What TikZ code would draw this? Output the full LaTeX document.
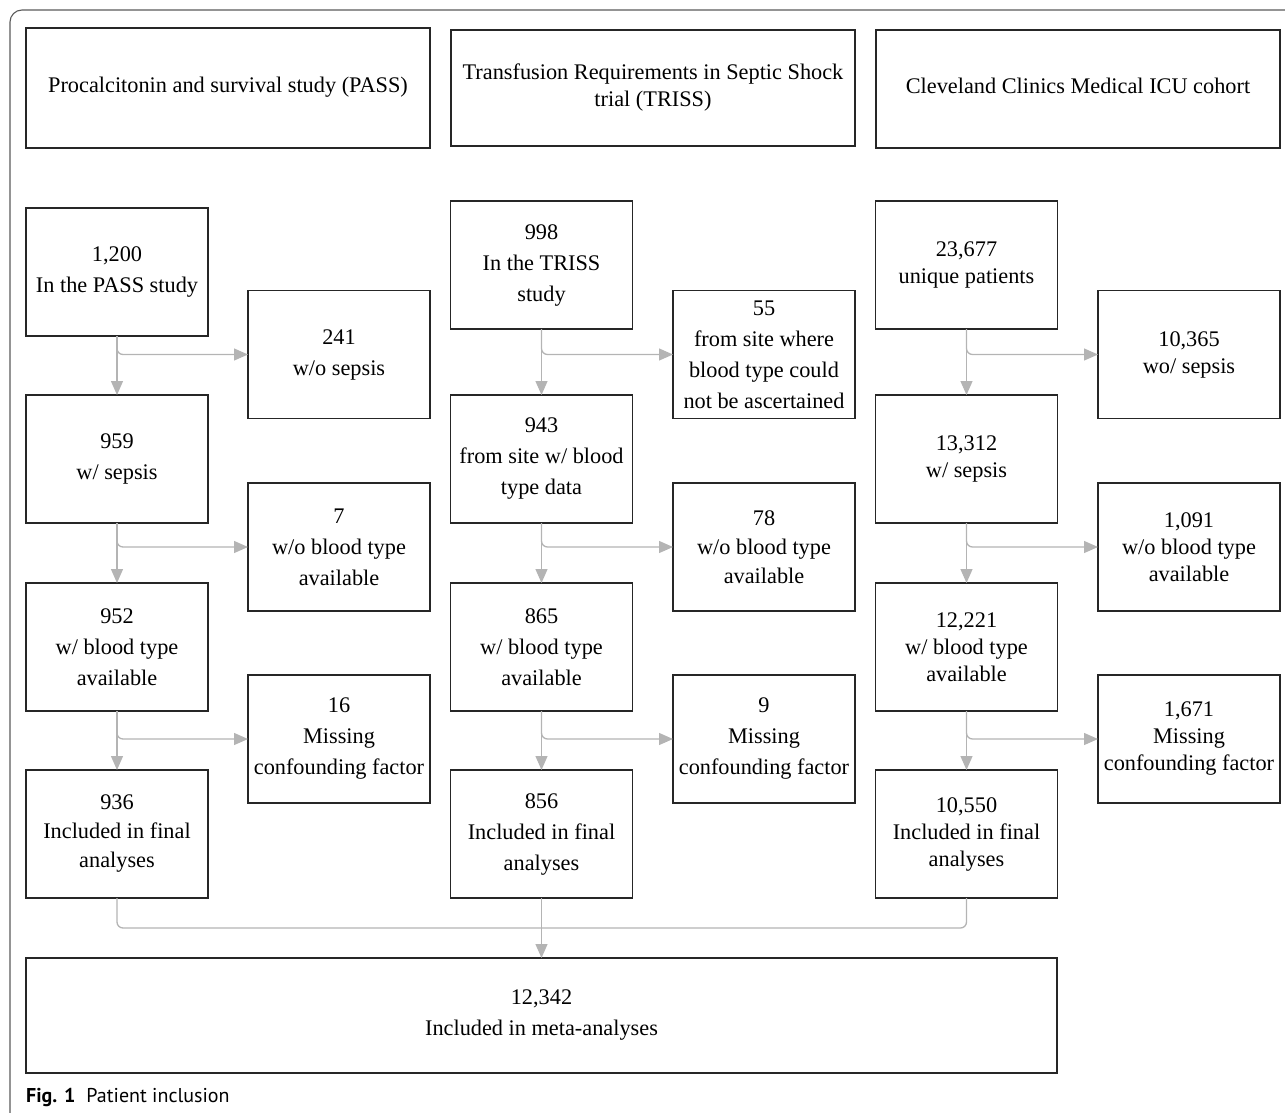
\documentclass[tikz,border=0pt]{standalone}
\usepackage{fontspec}
\setmainfont{Liberation Serif}
\newfontfamily\capfont{PT Sans}
\usetikzlibrary{arrows.meta}
\definecolor{arrgray}{HTML}{B4B4B4}
\definecolor{framegray}{HTML}{5A5A5A}
\tikzset{
  box/.style={draw=black!85, line width=1.1pt, inner sep=0pt, outer sep=0pt,
    minimum width=182pt, minimum height=128pt, align=center,
    font=\fontsize{22.3}{31}\selectfont},
  tight/.style={font=\fontsize{22.3}{27}\selectfont},
  hdr/.style={box, minimum width=404pt},
  arr/.style={draw=arrgray, line width=1.3pt, rounded corners=6pt,
    -{Triangle[length=14pt,width=12pt]}},
  ln/.style={draw=arrgray, line width=1.3pt, rounded corners=6pt},
}
\begin{document}
\begin{tikzpicture}[x=1pt,y=-1pt]
\useasboundingbox (0,0) rectangle (1285,1113);
\draw[framegray, line width=1.1pt, rounded corners=12pt] (1300,10) -- (10,10) -- (10,1125);

% headers
\node[hdr, minimum height=120pt, text depth=6pt] (h1) at (228,88) {Procalcitonin and survival study (PASS)};
\node[hdr, minimum height=116pt, tight] (h2) at (653,88) {Transfusion Requirements in Septic Shock\\trial (TRISS)};
\node[hdr, minimum height=118pt, text depth=7pt] (h3) at (1078,89) {Cleveland Clinics Medical ICU cohort};

% column 1
\node[box] (a1) at (117,272) {1,200\\In the PASS study};
\node[box] (a2) at (117,459) {959\\w/ sepsis};
\node[box] (a3) at (117,647) {952\\w/ blood type\\available};
\node[box, font=\fontsize{22.3}{29}\selectfont] (a4) at (117,834) {936\\Included in final\\analyses};
\node[box] (s1) at (339,354.5) {241\\w/o sepsis};
\node[box] (s2) at (339,547) {7\\w/o blood type\\available};
\node[box] (s3) at (339,739) {16\\Missing\\confounding factor};

% column 2
\node[box] (b1) at (541.5,265) {998\\In the TRISS\\study};
\node[box] (b2) at (541.5,459) {943\\from site w/ blood\\type data};
\node[box] (b3) at (541.5,647) {865\\w/ blood type\\available};
\node[box] (b4) at (541.5,834) {856\\Included in final\\analyses};
\node[box] (t1) at (764,354.5) {55\\from site where\\blood type could\\not be ascertained};
\node[box, font=\fontsize{22.3}{29}\selectfont] (t2) at (764,547) {78\\w/o blood type\\available};
\node[box] (t3) at (764,739) {9\\Missing\\confounding factor};

% column 3
\node[box, tight] (c1) at (966.5,265) {23,677\\unique patients};
\node[box, tight] (c2) at (966.5,459) {13,312\\w/ sepsis};
\node[box, tight] (c3) at (966.5,647) {12,221\\w/ blood type\\available};
\node[box, tight] (c4) at (966.5,834) {10,550\\Included in final\\analyses};
\node[box, tight] (u1) at (1189,354.5) {10,365\\wo/ sepsis};
\node[box, tight] (u2) at (1189,547) {1,091\\w/o blood type\\available};
\node[box, tight] (u3) at (1189,739) {1,671\\Missing\\confounding factor};

% final
\node[box, minimum width=1031pt, minimum height=115pt] (f) at (541.5,1015.5) {12,342\\Included in meta-analyses};

% connectors
\foreach \m/\n/\s in {a1/a2/s1,a2/a3/s2,a3/a4/s3,b1/b2/t1,b2/b3/t2,b3/b4/t3,c1/c2/u1,c2/c3/u2,c3/c4/u3}{
  \draw[arr] (\m.south) -- (\n.north);
  \draw[arr] (\m.south) |- (\s.west);
}
\coordinate (mg) at (541.5,928);
\draw[ln] (a4.south) |- (mg);
\draw[ln] (c4.south) |- (mg);
\draw[arr] (b4.south) -- (f.north);

% caption
\node[anchor=base west, inner sep=0pt, font=\capfont\fontsize{20}{22}\selectfont] (cap) at (26,1102) {\textbf{Fig. 1}\hspace{0.55em}Patient inclusion};
\end{tikzpicture}
\end{document}
